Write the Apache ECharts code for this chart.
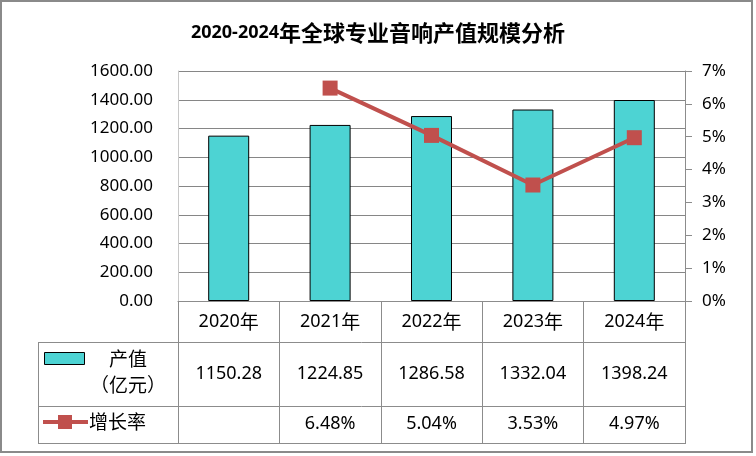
<!DOCTYPE html>
<html>
<head>
<meta charset="utf-8">
<script src="https://cdn.jsdelivr.net/npm/echarts@6.0.0/dist/echarts.min.js"></script>
<style>
html,body{margin:0;padding:0;background:#fff;}
#chart{width:756px;height:456px;}
</style>
</head>
<body>
<div id="chart"></div>
<script>
// ---- data ----
const titleText = '2020-2024年全球专业音响产值规模分析';
const years = ['2020年', '2021年', '2022年', '2023年', '2024年'];
const outputName = '产值（亿元）';
const output = [1150.28, 1224.85, 1286.58, 1332.04, 1398.24];
const growthName = '增长率';
const growth = [null, 6.48, 5.04, 3.53, 4.97];
const leftAxis = { min: 0, max: 1600, interval: 200 };
const rightAxis = { min: 0, max: 7, interval: 1 };

// ---- style ----
const LATIN = '"Noto Sans", "Noto Sans CJK SC", sans-serif';
const CJK = '"Noto Sans CJK SC", "Noto Sans", sans-serif';
const BAR = '#4DD3D3';
const RED = '#C0504D';
const GRID = '#868686';
const LINE = '#8c8c8c';

const G_LEFT = 178, G_RIGHT = 685, G_TOP = 71, G_BOTTOM = 301;
const ROW1 = 342, ROW2 = 406, ROW3 = 443, TBL_LEFT = 38;

function mixed(s) {
  // split latin run and CJK run for rich text
  return s.replace(/^([0-9\-\.%]+)(.*)$/, (m, a, b) => '{n|' + a + '}' + (b ? '{c|' + b + '}' : ''));
}

const chart = echarts.init(document.getElementById('chart'), null, { renderer: 'canvas' });

const option = {
  backgroundColor: '#fff',
  animation: false,
  title: {
    text: mixed(titleText),
    left: 'center',
    top: 17,
    textStyle: {
      rich: {
        n: { fontFamily: LATIN, fontSize: 18, fontWeight: 'bold', color: '#000' },
        c: { fontFamily: CJK, fontSize: 22, fontWeight: 'bold', color: '#000' }
      }
    }
  },
  grid: {
    left: G_LEFT, right: 756 - G_RIGHT, top: G_TOP, bottom: 456 - G_BOTTOM,
    outerBoundsMode: 'none'
  },
  xAxis: [
    {
      type: 'category',
      data: years,
      axisLine: { show: true, lineStyle: { color: LINE, width: 1 } },
      axisTick: { show: true, length: ROW3 - G_BOTTOM, lineStyle: { color: LINE, width: 1 } },
      axisLabel: {
        margin: 21,
        verticalAlign: 'middle',
        formatter: v => mixed(v),
        rich: {
          n: { fontFamily: LATIN, fontSize: 18, color: '#000' },
          c: { fontFamily: CJK, fontSize: 19, color: '#000' }
        }
      },
      splitLine: { show: false }
    },
    {
      type: 'category',
      data: years,
      position: 'bottom',
      axisLine: { show: false },
      axisTick: { show: false },
      axisLabel: {
        margin: 73,
        verticalAlign: 'middle',
        fontFamily: LATIN, fontSize: 18, color: '#000',
        formatter: (v, i) => output[i].toFixed(2)
      }
    },
    {
      type: 'category',
      data: years,
      position: 'bottom',
      axisLine: { show: false },
      axisTick: { show: false },
      axisLabel: {
        margin: 123,
        verticalAlign: 'middle',
        fontFamily: LATIN, fontSize: 18, color: '#000',
        formatter: (v, i) => growth[i] == null ? '' : growth[i].toFixed(2) + '%'
      }
    }
  ],
  yAxis: [
    {
      type: 'value',
      min: leftAxis.min, max: leftAxis.max, interval: leftAxis.interval,
      axisLine: { show: true, lineStyle: { color: '#c8c8c8', width: 1 } },
      axisTick: { show: false },
      axisLabel: {
        margin: 25,
        fontFamily: LATIN, fontSize: 17, color: '#000',
        formatter: v => v.toFixed(2)
      },
      splitLine: { show: true, lineStyle: { color: GRID, width: 1 } }
    },
    {
      type: 'value',
      min: rightAxis.min, max: rightAxis.max, interval: rightAxis.interval,
      position: 'right',
      axisLine: { show: true, lineStyle: { color: LINE, width: 1 } },
      axisTick: { show: true, inside: false, length: 7, lineStyle: { color: LINE, width: 1 } },
      axisLabel: {
        margin: 17,
        fontFamily: LATIN, fontSize: 17, color: '#000',
        formatter: v => v + '%'
      },
      splitLine: { show: false }
    }
  ],
  series: [
    {
      name: outputName,
      type: 'bar',
      xAxisIndex: 0, yAxisIndex: 0,
      data: output,
      barWidth: 41,
      itemStyle: { color: BAR, borderColor: '#000', borderWidth: 1 }
    },
    {
      name: growthName,
      type: 'line',
      xAxisIndex: 0, yAxisIndex: 1,
      data: growth,
      symbol: 'rect',
      symbolSize: 15,
      lineStyle: { color: RED, width: 4 },
      itemStyle: { color: RED },
      connectNulls: false
    }
  ],
  graphic: [
    // outer border
    { type: 'rect', shape: { x: 1, y: 1, width: 751, height: 451 }, style: { fill: null, stroke: '#8a8a8a', lineWidth: 2 }, silent: true },
    // table horizontal rules
    { type: 'line', shape: { x1: TBL_LEFT, y1: ROW1 + 0.5, x2: G_RIGHT, y2: ROW1 + 0.5 }, style: { stroke: LINE, lineWidth: 1 }, silent: true },
    { type: 'line', shape: { x1: TBL_LEFT, y1: ROW2 + 0.5, x2: G_RIGHT, y2: ROW2 + 0.5 }, style: { stroke: LINE, lineWidth: 1 }, silent: true },
    { type: 'line', shape: { x1: TBL_LEFT, y1: ROW3 + 0.5, x2: G_RIGHT + 1, y2: ROW3 + 0.5 }, style: { stroke: LINE, lineWidth: 1 }, silent: true },
    { type: 'line', shape: { x1: TBL_LEFT + 0.5, y1: ROW1, x2: TBL_LEFT + 0.5, y2: ROW3 + 1 }, style: { stroke: LINE, lineWidth: 1 }, silent: true },
    // legend key: bars
    { type: 'rect', shape: { x: 44.5, y: 352.5, width: 40, height: 12 }, style: { fill: BAR, stroke: '#000', lineWidth: 1 }, silent: true },
    { type: 'text', style: { text: '产值', x: 128, y: 359, textAlign: 'center', textVerticalAlign: 'middle', font: '19px ' + CJK, fill: '#000' }, silent: true },
    { type: 'text', style: { text: '（亿元）', x: 128, y: 385, textAlign: 'center', textVerticalAlign: 'middle', font: '19px ' + CJK, fill: '#000' }, silent: true },
    // legend key: line
    { type: 'line', shape: { x1: 43, y1: 422, x2: 88, y2: 422 }, style: { stroke: RED, lineWidth: 4 }, silent: true },
    { type: 'rect', shape: { x: 58, y: 415, width: 14, height: 14 }, style: { fill: RED }, silent: true },
    { type: 'text', style: { text: growthName, x: 89, y: 422, textAlign: 'left', textVerticalAlign: 'middle', font: '19px ' + CJK, fill: '#000' }, silent: true }
  ]
};

chart.setOption(option);
</script>
</body>
</html>
